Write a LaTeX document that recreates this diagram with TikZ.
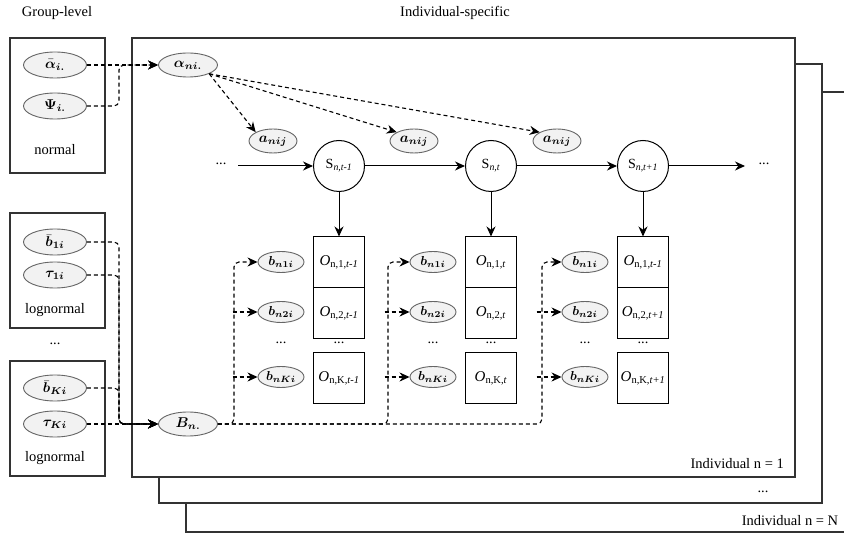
\documentclass[tikz,border=0pt]{standalone}
\usepackage{graphicx}
\usepackage{amsmath}
\usepackage{bm}
\usepackage{fontspec}
\setmainfont{Liberation Serif}
\usetikzlibrary{shapes.geometric,arrows.meta}
\definecolor{ellfill}{HTML}{F2F2F2}
\definecolor{ellline}{HTML}{666666}
\definecolor{frameline}{HTML}{333333}
\newcommand{\mlab}[2][1.42]{\scalebox{#1}{\fontsize{10}{12}\selectfont$\bm{#2}$}}
\tikzset{
  grpbox/.style={draw=frameline,line width=1.2pt,fill=white},
  ell/.style={ellipse,draw=ellline,fill=ellfill,line width=0.9pt,inner sep=0pt},
  bigell/.style={ell,minimum width=63pt,minimum height=26pt},
  midell/.style={ell,minimum width=59pt,minimum height=24pt},
  aell/.style={ell,minimum width=48pt,minimum height=24pt},
  bell/.style={ell,minimum width=46pt,minimum height=21pt},
  statenode/.style={circle,draw,line width=1pt,minimum size=51pt,inner sep=0pt,font=\fontsize{14}{16}\selectfont},
  obox/.style={rectangle,draw,line width=1pt,minimum width=51pt,minimum height=51pt,inner sep=0pt,font=\fontsize{15}{17}\selectfont},
  txt/.style={font=\fontsize{14.5}{16}\selectfont,inner sep=0pt},
  dasharr/.style={line width=1.1pt,dash pattern=on 4pt off 3pt,rounded corners=5pt,-{Stealth[length=10pt,width=9pt]}},
  solarr/.style={line width=1pt,-{Stealth[length=10pt,width=9pt]}}
}
\begin{document}
\begin{tikzpicture}[x=1pt,y=-1pt]
\useasboundingbox (0,0) rectangle (844,537);
% stacked frames
\begin{scope}
\clip (0,0) rectangle (844,537);
\draw[grpbox] (186,92) rectangle (870,532);
\draw[grpbox] (159,64) rectangle (822,503);
\draw[grpbox] (132,38) rectangle (795,477);
\end{scope}
% titles
\node[txt] (tgl) at (57,13) {Group-level};
\node[txt] (tis) at (455,13) {Individual-specific};
\node[txt,anchor=east] (tn1) at (784,464) {Individual n = 1};
\node[txt] (tdots) at (763,492) {...};
\node[txt] (tnN) at (790,521) {Individual n = N};
% group boxes
\draw[grpbox] (10,38) rectangle (105,173);
\draw[grpbox] (10,213) rectangle (105,328);
\draw[grpbox] (10,361) rectangle (105,476);
\node[bigell] (abar) at (55,65) {\mlab{\bar{\alpha}_{i.}}};
\node[bigell] (psi) at (55,106) {\mlab{\Psi_{i.}}};
\node[txt] (lnorm) at (55,150) {normal};
\node[bigell] (b1bar) at (55,242) {\mlab{\bar{b}_{1i}}};
\node[bigell] (tau1) at (55,275) {\mlab{\tau_{1i}}};
\node[txt] (llog1) at (55,310) {lognormal};
\node[txt] (gdots) at (55,344) {...};
\node[bigell] (bKbar) at (55,388) {\mlab{\bar{b}_{Ki}}};
\node[bigell] (tauK) at (55,424) {\mlab{\tau_{Ki}}};
\node[txt] (llog2) at (55,458) {lognormal};
% individual-level
\node[midell] (ani) at (188,65) {\mlab{\alpha_{ni.}}};
\node[midell] (Bn) at (188,424) {\mlab{B_{n.}}};
\node[aell] (a1) at (273,141) {\mlab{a_{nij}}};
\node[aell] (a2) at (414,141) {\mlab{a_{nij}}};
\node[aell] (a3) at (557,141) {\mlab{a_{nij}}};
\node[statenode] (S1) at (339,166) {S\textsubscript{\textit{n,t-1}}};
\node[statenode] (S2) at (491,166) {S\textsubscript{\textit{n,t}}};
\node[statenode] (S3) at (643,166) {S\textsubscript{\textit{n,t+1}}};
\node[txt] (ldots) at (221,164) {...};
\node[txt] (rdots) at (764,164) {...};
\coordinate (sl) at (238,166);
\coordinate (sr) at (745,166);
% observation boxes
\node[obox] (O11) at (339,262.5) {\textit{O}\textsubscript{n,1,\textit{t-1}}};
\node[obox] (O12) at (339,313) {\textit{O}\textsubscript{n,2,\textit{t-1}}};
\node[obox] (O13) at (339,378.5) {\textit{O}\textsubscript{n,K,\textit{t-1}}};
\node[obox] (O21) at (491,262.5) {\textit{O}\textsubscript{n,1,\textit{t}}};
\node[obox] (O22) at (491,313) {\textit{O}\textsubscript{n,2,\textit{t}}};
\node[obox] (O23) at (491,378.5) {\textit{O}\textsubscript{n,K,\textit{t}}};
\node[obox] (O31) at (643,262.5) {\textit{O}\textsubscript{n,1,\textit{t-1}}};
\node[obox] (O32) at (643,313) {\textit{O}\textsubscript{n,2,\textit{t+1}}};
\node[obox] (O33) at (643,378.5) {\textit{O}\textsubscript{n,K,\textit{t+1}}};
\node[txt] (od1) at (339,343) {...};
\node[txt] (od2) at (491,343) {...};
\node[txt] (od3) at (643,343) {...};
% b ellipses
\node[bell] (b11) at (281,262) {\mlab[1.3]{b_{n1i}}};
\node[bell] (b12) at (281,312) {\mlab[1.3]{b_{n2i}}};
\node[bell] (b13) at (281,377) {\mlab[1.3]{b_{nKi}}};
\node[bell] (b21) at (433,262) {\mlab[1.3]{b_{n1i}}};
\node[bell] (b22) at (433,312) {\mlab[1.3]{b_{n2i}}};
\node[bell] (b23) at (433,377) {\mlab[1.3]{b_{nKi}}};
\node[bell] (b31) at (585,262) {\mlab[1.3]{b_{n1i}}};
\node[bell] (b32) at (585,312) {\mlab[1.3]{b_{n2i}}};
\node[bell] (b33) at (585,377) {\mlab[1.3]{b_{nKi}}};
\node[txt] (bd1) at (281,343) {...};
\node[txt] (bd2) at (433,343) {...};
\node[txt] (bd3) at (585,343) {...};
% group to individual
\draw[dasharr] (abar.east) -- (ani.west);
\draw[dasharr] (psi.east) -- ++(32,0) |- (ani.west);
\draw[dasharr] (b1bar.east) -- ++(32,0) |- (Bn.west);
\draw[dasharr] (tau1.east) -- ++(32,0) |- (Bn.west);
\draw[dasharr] (bKbar.east) -- ++(32,0) |- (Bn.west);
\draw[dasharr] (tauK.east) -- (Bn.west);
% alpha to a
\draw[dasharr] (ani.south east) -- (a1.north west);
\draw[dasharr] (ani.south east) -- (a2.north west);
\draw[dasharr] (ani.south east) -- (a3.north west);
% states
\draw[solarr] (sl) -- (S1.west);
\draw[solarr] (S1.east) -- (S2.west);
\draw[solarr] (S2.east) -- (S3.west);
\draw[solarr] (S3.east) -- (sr);
\draw[solarr] (S1.south) -- (O11.north);
\draw[solarr] (S2.south) -- (O21.north);
\draw[solarr] (S3.south) -- (O31.north);
% B to b
\draw[dasharr] (Bn.east) -- ++(16,0) |- (b11.west);
\draw[dasharr] (Bn.east) -- ++(170,0) |- (b21.west);
\draw[dasharr] (Bn.east) -- ++(324,0) |- (b31.west);
\draw[dasharr] (b12.west) ++(-25,0) -- (b12.west);
\draw[dasharr] (b13.west) ++(-25,0) -- (b13.west);
\draw[dasharr] (b22.west) ++(-25,0) -- (b22.west);
\draw[dasharr] (b23.west) ++(-25,0) -- (b23.west);
\draw[dasharr] (b32.west) ++(-25,0) -- (b32.west);
\draw[dasharr] (b33.west) ++(-25,0) -- (b33.west);
\end{tikzpicture}
\end{document}
